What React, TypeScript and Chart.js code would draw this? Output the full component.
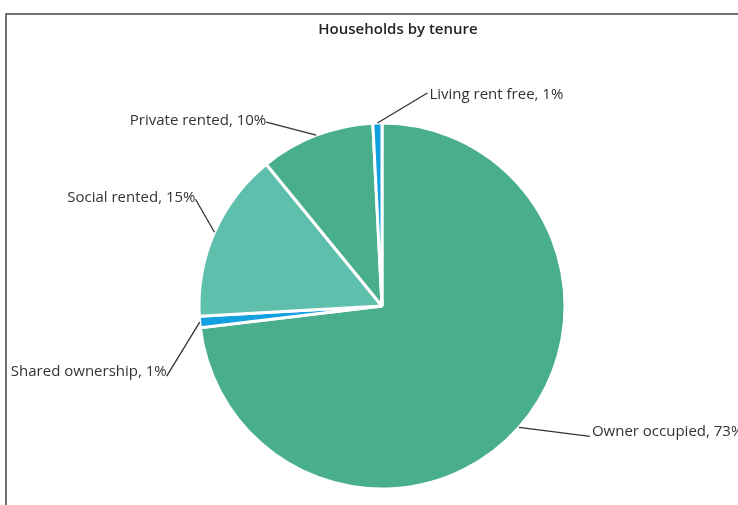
import React, { useEffect, useRef } from "react";
import { Chart, registerables } from "chart.js";

Chart.register(...registerables);

const categories = [
  "Owner occupied",
  "Shared ownership",
  "Social rented",
  "Private rented",
  "Living rent free",
];
const values = [73.1, 1.0, 15.0, 10.1, 0.8];
const sliceColors = ["#48ae8b", "#12a0e0", "#5fbfad", "#48ae8b", "#12a0e0"];
const chartTitle = "Households by tenure";

// leader-line elbow offsets relative to the slice's outer mid-point (layout only)
const labelOffsets: [number, number][] = [
  [71, 9],
  [-33, 54],
  [-19, -33],
  [-50, -13],
  [50, -30],
];
// vertical nudge of each label's text relative to its elbow (layout only)
const labelTextShift = [-5, -4, -2, -1, 2];

const FONT = "'Open Sans', 'Noto Sans', sans-serif";

const overlayPlugin = {
  id: "overlay",
  beforeDraw(chart: any) {
    const ctx = chart.ctx;
    ctx.save();
    ctx.fillStyle = "#ffffff";
    ctx.fillRect(0, 0, chart.width, chart.height);
    ctx.strokeStyle = "#707070";
    ctx.lineWidth = 2;
    ctx.beginPath();
    ctx.moveTo(6, chart.height + 5);
    ctx.lineTo(6, 14);
    ctx.lineTo(chart.width + 5, 14);
    ctx.stroke();
    ctx.fillStyle = "#252423";
    ctx.font = `600 15px ${FONT}`;
    ctx.textAlign = "center";
    ctx.textBaseline = "middle";
    ctx.fillText(chartTitle, 398, 30);
    ctx.restore();
  },
  afterDatasetsDraw(chart: any) {
    const ctx = chart.ctx;
    const meta = chart.getDatasetMeta(0);
    const total = values.reduce((a, b) => a + b, 0);
    ctx.save();
    meta.data.forEach((arc: any, i: number) => {
      const p = arc.getProps(["x", "y", "startAngle", "endAngle", "outerRadius"], true);
      const mid = (p.startAngle + p.endAngle) / 2;
      const ax = p.x + Math.cos(mid) * p.outerRadius;
      const ay = p.y + Math.sin(mid) * p.outerRadius;
      const [dx, dy] = labelOffsets[i];
      const ex = ax + dx;
      const ey = ay + dy;
      ctx.strokeStyle = "#333333";
      ctx.lineWidth = 1.3;
      ctx.beginPath();
      ctx.moveTo(ax, ay);
      ctx.lineTo(ex, ey);
      ctx.stroke();
      const pct = Math.round((values[i] / total) * 100);
      const text = `${categories[i]}, ${pct}%`;
      ctx.fillStyle = "#333333";
      ctx.font = `15px ${FONT}`;
      ctx.textBaseline = "middle";
      const ty = ey + labelTextShift[i];
      if (dx >= 0) {
        ctx.textAlign = "left";
        ctx.fillText(text, ex + 2, ty);
      } else {
        ctx.textAlign = "right";
        ctx.fillText(text, ex, ty);
      }
    });
    ctx.restore();
  },
};

export default function App() {
  const ref = useRef<HTMLCanvasElement | null>(null);
  useEffect(() => {
    if (!ref.current) return;
    const chart = new Chart(ref.current, {
      type: "pie",
      data: {
        labels: categories,
        datasets: [
          {
            data: values,
            backgroundColor: sliceColors,
            borderColor: "#ffffff",
            borderWidth: 3,
          },
        ],
      },
      options: {
        responsive: false,
        animation: false,
        devicePixelRatio: 1,
        radius: 183,
        layout: { padding: { left: 199, right: 173, top: 123, bottom: 16 } },
        plugins: {
          legend: { display: false },
          title: { display: false },
          tooltip: { enabled: false },
        },
      } as any,
      plugins: [overlayPlugin],
    });
    return () => chart.destroy();
  }, []);
  return (
    <div style={{ position: "fixed", left: 0, top: 0, width: 738, height: 505, background: "#fff" }}>
      <canvas ref={ref} width={738} height={505} style={{ display: "block" }} />
    </div>
  );
}
